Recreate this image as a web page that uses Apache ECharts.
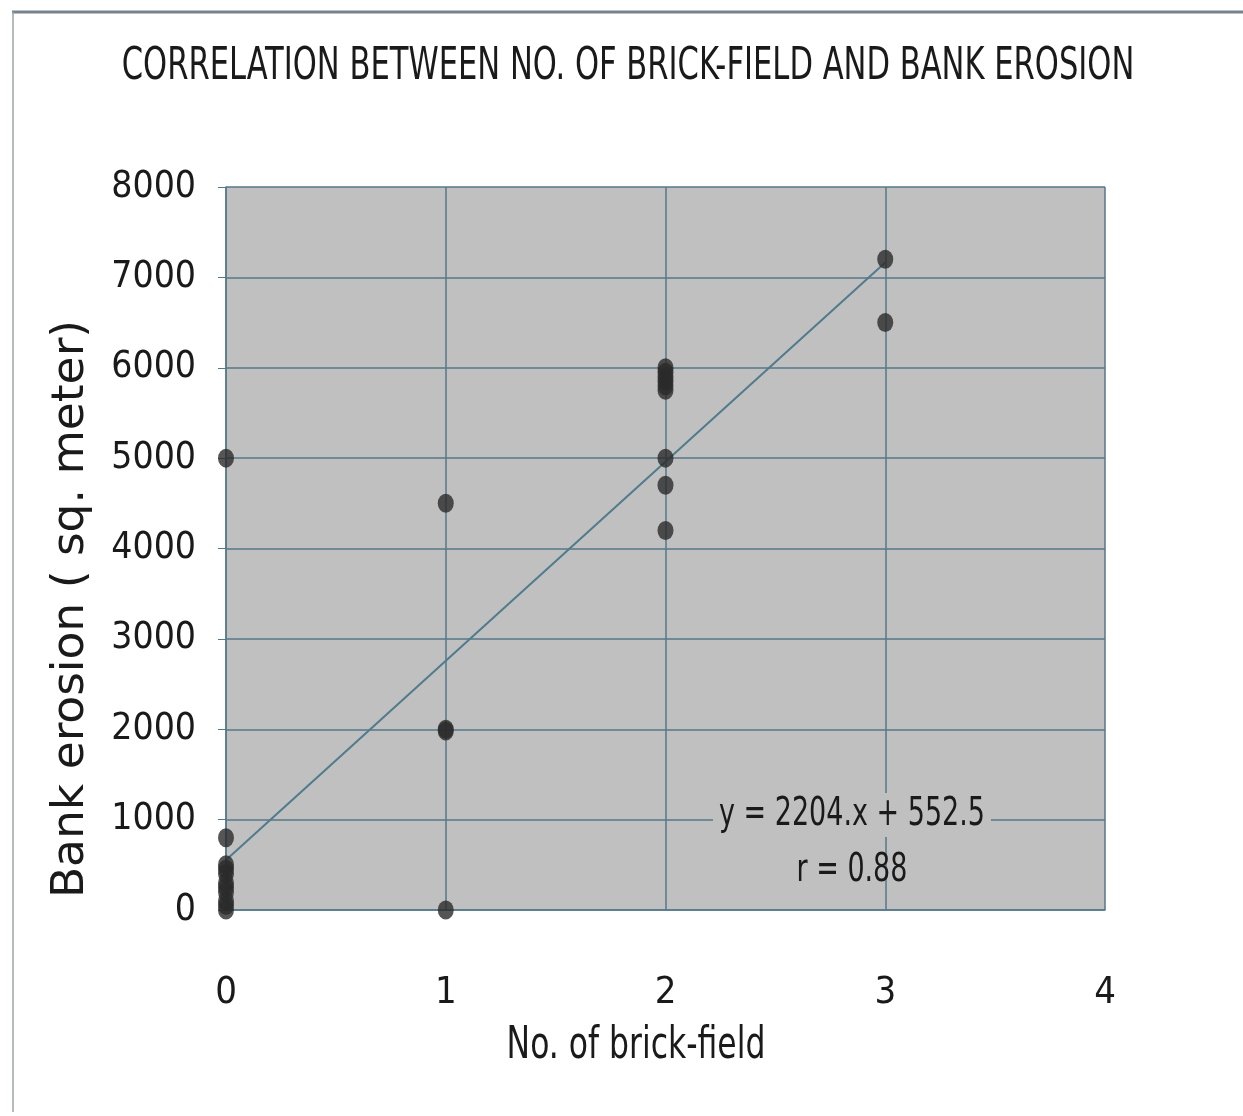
<!DOCTYPE html>
<html>
<head>
<meta charset="utf-8">
<script src="https://cdn.jsdelivr.net/npm/echarts@6/dist/echarts.min.js"></script>
<style>
  html, body { margin: 0; padding: 0; background: #fff; }
  #chart { width: 1243px; height: 1116px; }
</style>
</head>
<body>
<div id="chart"></div>
<script>
// brick-field count vs bank erosion (sq. meter)
var brickFields = [0, 0, 0, 0, 0, 0, 0, 0, 0, 0, 0,
                   1, 1, 1, 1,
                   2, 2, 2, 2, 2, 2, 2, 2, 2,
                   3, 3];
var erosion = [5000, 800, 500, 450, 400, 300, 250, 200, 100, 50, 0,
               4500, 2000, 1980, 0,
               6000, 5950, 5900, 5850, 5800, 5750, 5000, 4700, 4200,
               7200, 6500];
var slope = 2204, intercept = 552.5, rValue = 0.88;
var trendX = [0, 3];

var font = "'Liberation Sans Narrow', 'DejaVu Sans Condensed', sans-serif";
var gridColor = '#557888';
var txt = '#1a1a1a';

var points = brickFields.map(function (x, i) { return [x, erosion[i]]; });
var trend = trendX.map(function (x) { return [x, slope * x + intercept]; });

var chart = echarts.init(document.getElementById('chart'));
chart.setOption({
  backgroundColor: '#ffffff',
  animation: false,
  grid: { left: 226, right: 138, top: 187, bottom: 206, show: true, backgroundColor: '#c0c0c0', borderWidth: 0 },
  xAxis: {
    type: 'value', min: 0, max: 4, interval: 1,
    axisLine: { show: true, lineStyle: { color: gridColor, width: 1.5 } },
    axisTick: { show: false },
    splitLine: { show: true, lineStyle: { color: gridColor, width: 1.5 } },
    axisLabel: { fontFamily: font, fontSize: 38, color: txt, margin: 64 }
  },
  yAxis: {
    type: 'value', min: 0, max: 8000, interval: 1000,
    axisLine: { show: true, lineStyle: { color: gridColor, width: 1.5 } },
    axisTick: { show: true, length: 8, lineStyle: { color: gridColor } },
    splitLine: { show: true, lineStyle: { color: gridColor, width: 1.5 } },
    axisLabel: { fontFamily: font, fontSize: 37, color: txt, margin: 30,
      formatter: function (v) { return String(v); } }
  },
  series: [
    {
      type: 'line', data: trend, symbol: 'none', z: 2,
      lineStyle: { color: '#4f7b8c', width: 2 }
    },
    {
      type: 'scatter', data: points, z: 3,
      symbol: 'circle', symbolSize: [16, 19],
      itemStyle: { color: '#2a2a2a' }
    }
  ],
  graphic: [
    { type: 'line', shape: { x1: 12, y1: 12, x2: 1243, y2: 12 }, style: { stroke: '#75848c', lineWidth: 3 } },
    { type: 'line', shape: { x1: 13, y1: 12, x2: 13, y2: 1112 }, style: { stroke: '#9aa4aa', lineWidth: 1.5 } },
    {
      type: 'text', x: 628, y: 68, scaleY: 1.3, z: 10,
      style: { text: 'CORRELATION BETWEEN NO. OF BRICK-FIELD AND BANK EROSION',
        fontFamily: font, fontSize: 34, fill: txt, align: 'center', verticalAlign: 'middle' }
    },
    {
      type: 'text', x: 72, y: 609, rotation: Math.PI / 2, scaleX: 1.15, z: 10,
      style: { text: 'Bank erosion ( sq. meter)',
        fontFamily: font, fontSize: 44, fill: txt, align: 'center', verticalAlign: 'middle' }
    },
    {
      type: 'text', x: 636, y: 1047, scaleX: 0.92, scaleY: 1.15, z: 10,
      style: { text: 'No. of brick-field',
        fontFamily: font, fontSize: 38, fill: txt, align: 'center', verticalAlign: 'middle' }
    },
    {
      type: 'text', x: 852, y: 815, scaleY: 1.3, z: 10,
      style: { text: 'y = ' + slope + '.x + ' + intercept,
        fontFamily: font, fontSize: 30, fill: txt, align: 'center', verticalAlign: 'middle',
        backgroundColor: '#c0c0c0', padding: [2, 6] }
    },
    {
      type: 'text', x: 852, y: 871, scaleY: 1.3, z: 10,
      style: { text: 'r = ' + rValue,
        fontFamily: font, fontSize: 30, fill: txt, align: 'center', verticalAlign: 'middle' }
    }
  ]
});
</script>
</body>
</html>
